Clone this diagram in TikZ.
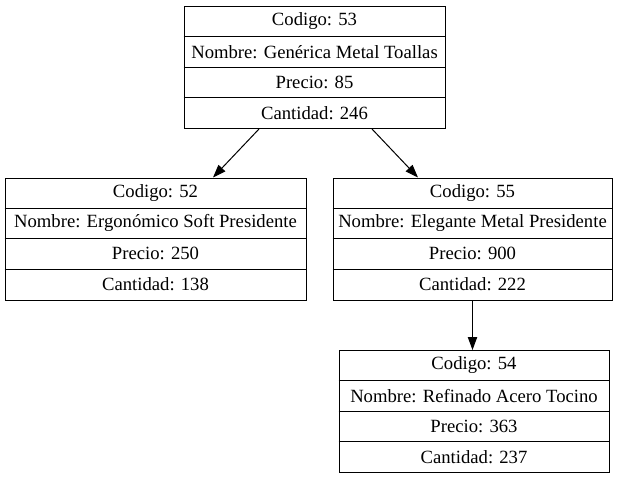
\documentclass[tikz,border=0pt]{standalone}
\usepackage{fontspec}
\setmainfont{Liberation Serif}
\usetikzlibrary{arrows.meta,calc}
\tikzset{
  rec/.style={draw, line width=0.75pt, minimum height=91.5pt, anchor=north, inner sep=0pt},
  lbl/.style={font=\fontsize{14pt}{16pt}\selectfont, inner sep=0pt},
  sep/.style={line width=0.75pt},
  arr/.style={line width=0.75pt, -{Triangle[length=9.75pt,width=7pt]}}
}
\newcommand\myrecord[8]{%
  \node[rec, minimum width=#4] (#1) at (#2,#3) {};
  \foreach \k in {1,2,3} \draw[sep] ($(#1.north west)+(0,30.5*\k)$) -- ($(#1.north east)+(0,30.5*\k)$);
  \node[lbl] (#1-a) at ($(#1.north)+(0,15.25)$) {#5};
  \node[lbl] (#1-b) at ($(#1.north)+(0,45.75)$) {#6};
  \node[lbl] (#1-c) at ($(#1.north)+(0,76.25)$) {#7};
  \node[lbl] (#1-d) at ($(#1.north)+(0,106.75)$) {#8};
}
\begin{document}
\begin{tikzpicture}[x=0.75pt,y=-0.75pt]
\useasboundingbox (0,0) rectangle (621,479);
\myrecord{n53}{314.5}{6}{195.75pt}{Codigo: 53}{Nombre: Genérica Metal Toallas}{Precio: 85}{Cantidad: 246}
\myrecord{n52}{155.5}{177.5}{225.75pt}{Codigo: 52}{Nombre: Ergonómico Soft Presidente}{Precio: 250}{Cantidad: 138}
\myrecord{n55}{472.5}{177.5}{209.25pt}{Codigo: 55}{Nombre: Elegante Metal Presidente}{Precio: 900}{Cantidad: 222}
\myrecord{n54}{474}{350}{202.5pt}{Codigo: 54}{Nombre: Refinado Acero Tocino}{Precio: 363}{Cantidad: 237}
\draw[arr] ($(n53.south)+(-55.5,0)$) -- ($(n52.north)+(57.5,0)$);
\draw[arr] ($(n53.south)+(57.5,0)$) -- ($(n55.north)+(-54.5,0)$);
\draw[arr] (n55.south) -- (n55.south |- n54.north);
\end{tikzpicture}
\end{document}
